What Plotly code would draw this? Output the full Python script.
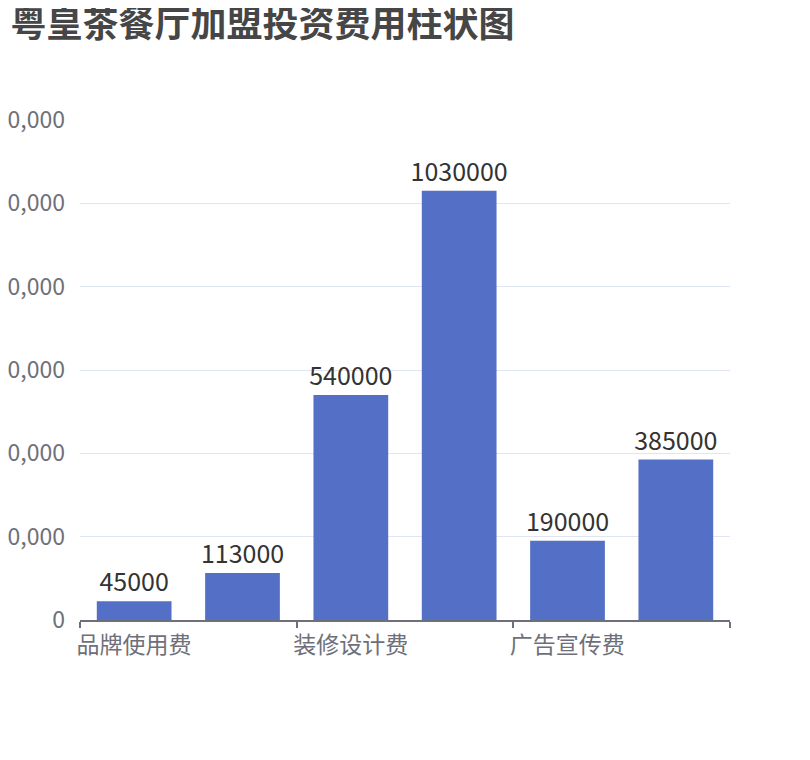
import plotly.graph_objects as go

categories = ["品牌使用费", "加盟费", "装修设计费", "设备采购费", "广告宣传费", "流动资金"]
values = [45000, 113000, 540000, 1030000, 190000, 385000]
shown_labels = ["品牌使用费", "装修设计费", "广告宣传费"]
y_ticks = [0, 200000, 400000, 600000, 800000, 1000000, 1200000]

font_family = "Noto Sans CJK SC, Noto Sans, sans-serif"

# ticks go on the category boundaries, one every two categories;
# the labels are then shifted half a category to the right
idx = list(range(len(categories)))
boundary_ticks = [i - 0.5 for i in idx[::2]] + [len(categories) - 0.5]
boundary_text = shown_labels + [""]

fig = go.Figure()
fig.add_trace(go.Bar(
    x=categories,
    y=values,
    text=[str(v) for v in values],
    textposition="outside",
    textfont=dict(size=25, color="#333333", family=font_family),
    marker=dict(color="#5470c6", line=dict(width=0)),
    cliponaxis=False,
))

fig.update_layout(
    width=810,
    height=760,
    paper_bgcolor="white",
    plot_bgcolor="white",
    margin=dict(l=72, r=88, t=112, b=148),
    bargap=0.31,
    showlegend=False,
    uniformtext=dict(minsize=25, mode="show"),
    font=dict(family=font_family),
    title=dict(
        text="<b>粤皇茶餐厅加盟投资费用柱状图</b>",
        x=0.003, xanchor="left",
        y=0.978, yanchor="middle",
        font=dict(size=36, color="#464646", family=font_family),
    ),
    xaxis=dict(
        type="category",
        range=[-0.5, len(categories) - 0.5],
        tickmode="array",
        tickvals=boundary_ticks,
        ticktext=boundary_text,
        ticklabelshift=54,
        ticks="outside",
        ticklen=6,
        tickwidth=1.5,
        tickcolor="#6E7079",
        tickangle=0,
        showline=True,
        linecolor="#6E7079",
        linewidth=1.5,
        showgrid=False,
        zeroline=False,
        ticklabelstandoff=-2,
        tickfont=dict(size=23, color="#6E7079"),
    ),
    yaxis=dict(
        range=[0, 1200000],
        tickvals=y_ticks,
        tickformat=",",
        showgrid=True,
        gridcolor="#E0E6F1",
        gridwidth=1,
        zeroline=False,
        showline=False,
        ticks="",
        ticklabelstandoff=14,
        tickfont=dict(size=23, color="#6E7079"),
        automargin=False,
    ),
)

fig.write_html("out.html")
